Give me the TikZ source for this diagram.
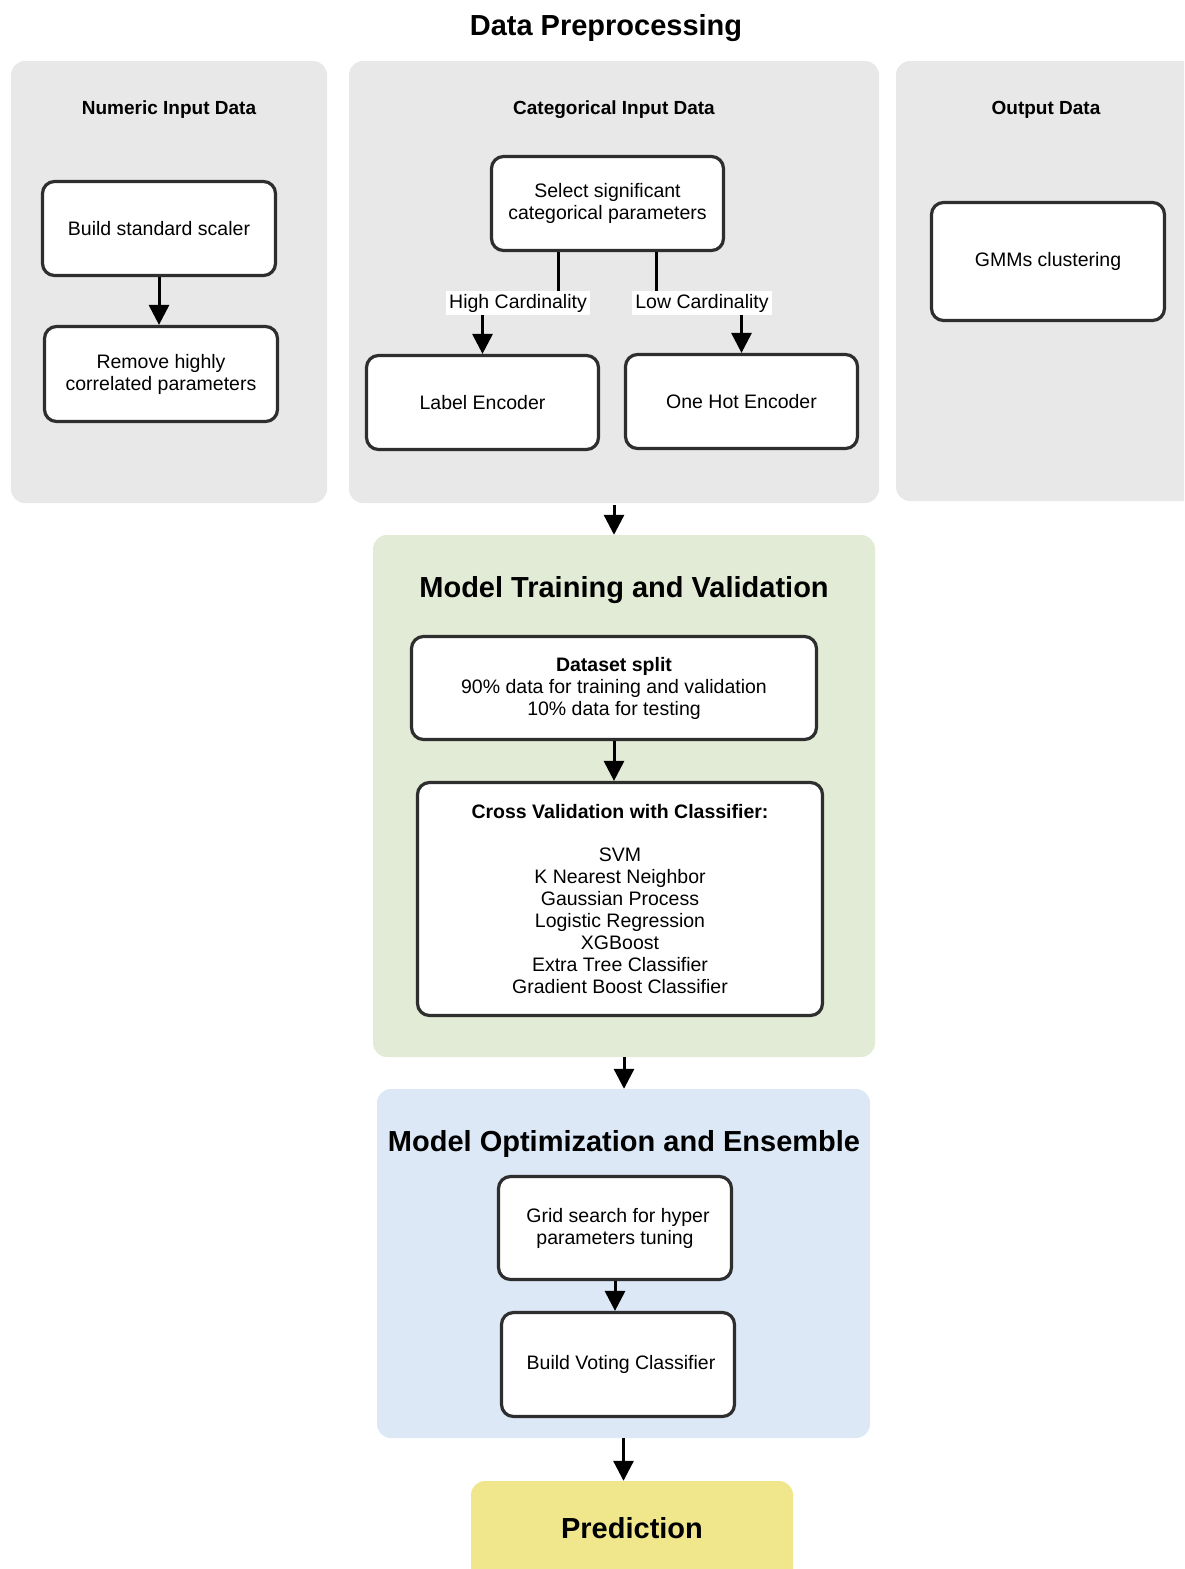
\documentclass[tikz,border=0pt]{standalone}
\usepackage{fontspec}
\setmainfont{Liberation Sans}
\usetikzlibrary{arrows.meta,calc}
\definecolor{panelgray}{HTML}{E8E8E8}
\definecolor{panelgreen}{HTML}{E2EBD5}
\definecolor{panelblue}{HTML}{DCE8F5}
\definecolor{predyellow}{HTML}{F0E68C}
\definecolor{boxline}{HTML}{2E2E2E}
\begin{document}
\begin{tikzpicture}[x=1pt,y=-1pt,
  panel/.style={draw=none, rounded corners=14pt, inner sep=0pt},
  box/.style={draw=boxline, line width=3.2pt, rounded corners=12pt, fill=white,
    align=center, inner sep=0pt, font=\fontsize{19.5}{22}\selectfont},
  ptitle/.style={font=\fontsize{19}{22}\selectfont\bfseries},
  btitle/.style={font=\fontsize{29}{34}\selectfont\bfseries},
  cardlabel/.style={fill=white, inner sep=3pt, font=\fontsize{19.5}{22}\selectfont},
  arr/.style={line width=3pt, -{Triangle[width=20pt,length=20pt]}},
  plainline/.style={line width=3pt}
]
\useasboundingbox (0,0) rectangle (1184,1569);
\clip (0,0) rectangle (1184,1569);

% Title
\node[btitle] (dptitle) at (606,28) {Data Preprocessing};

% Panels
\node[panel, fill=panelgray, minimum width=316pt, minimum height=442pt] (num) at (169,282) {};
\node[panel, fill=panelgray, minimum width=530pt, minimum height=442pt] (cat) at (614,282) {};
\node[panel, fill=panelgray, minimum width=304pt, minimum height=440pt] (out) at (1048,281) {};
\node[panel, fill=panelgreen, minimum width=502pt, minimum height=522pt] (green) at (624,796) {};
\node[panel, fill=panelblue, minimum width=493pt, minimum height=349pt] (blue) at (623.5,1263.5) {};
\node[panel, fill=predyellow, minimum width=322pt, minimum height=109pt] (pred) at (632,1535.5) {};

% Panel titles
\node[ptitle] (numtitle) at (169,110) {Numeric Input Data};
\node[ptitle] (cattitle) at (614,110) {Categorical Input Data};
\node[ptitle] (outtitle) at (1046,110) {Output Data};
\node[btitle] (greentitle) at (624,590) {Model Training and Validation};
\node[btitle] (bluetitle) at (624,1144) {Model Optimization and Ensemble};
\node[btitle] (predtext) at (632,1528) {Prediction};

% Boxes
\node[box, minimum width=233pt, minimum height=94pt] (bss) at (159,228.5) {Build standard scaler};
\node[box, minimum width=233pt, minimum height=95pt] (rhc) at (161,374) {Remove highly\\correlated parameters};
\node[box, minimum width=232pt, minimum height=94pt] (sel) at (607.5,203.5) {Select significant\\categorical parameters};
\node[box, minimum width=232pt, minimum height=94pt] (lab) at (482.5,402.5) {Label Encoder};
\node[box, minimum width=232pt, minimum height=94pt] (ohe) at (741.5,401.5) {One Hot Encoder};
\node[box, minimum width=233pt, minimum height=118pt] (gmm) at (1048,261.5) {GMMs clustering};
\node[box, minimum width=405pt, minimum height=103pt] (ds) at (614,688) {\textbf{Dataset split}\\90\% data for training and validation\\10\% data for testing};
\node[box, minimum width=405pt, minimum height=233pt] (cv) at (620,899) {\textbf{Cross Validation with Classifier:}\\[21.9pt]SVM\\K Nearest Neighbor\\Gaussian Process\\Logistic Regression\\XGBoost\\Extra Tree Classifier\\Gradient Boost Classifier};
\node[box, minimum width=233pt, minimum height=103pt] (grid) at (615,1228) {\hspace*{6pt}Grid search for hyper\\parameters tuning};
\node[box, minimum width=233pt, minimum height=104pt] (vote) at (618,1364.5) {\hspace*{6pt}Build Voting Classifier};

% Connectors
\draw[arr] (bss.south) -- (bss.south |- rhc.north);
\draw[arr] ([xshift=-49.5pt]sel.south) -- ++(0,50) -| (lab.north);
\draw[arr] ([xshift=48.5pt]sel.south) -- ++(0,50) -| (ohe.north);
\node[cardlabel] (hc) at (518,303) {High Cardinality};
\node[cardlabel] (lc) at (702,303) {Low Cardinality};

\draw[arr] ([yshift=-2pt]cat.south) -- (cat.south |- green.north);
\draw[arr] (ds.south) -- (ds.south |- cv.north);
\draw[arr] (green.south) -- (green.south |- blue.north);
\draw[arr] (grid.south) -- (grid.south |- vote.north);
\draw[arr] (blue.south) -- (blue.south |- pred.north);
\end{tikzpicture}
\end{document}
